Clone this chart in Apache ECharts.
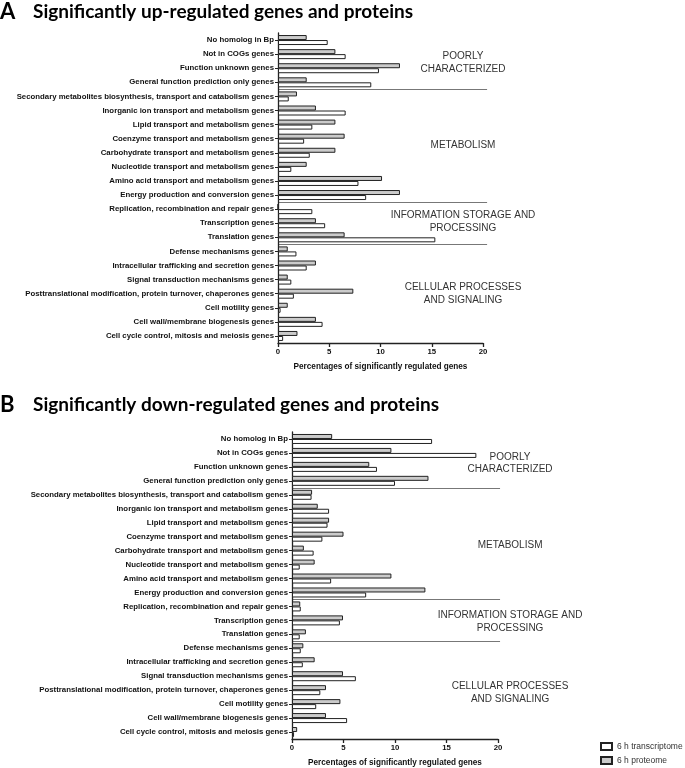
<!DOCTYPE html>
<html><head><meta charset="utf-8">
<script src="https://cdn.jsdelivr.net/npm/echarts@6/dist/echarts.min.js"></script>
<style>html,body{margin:0;padding:0;background:#fff}#c{width:685px;height:768px}</style>
</head><body><div id="c"></div>
<script>
const categories = [
  "No homolog in Bp",
  "Not in COGs genes",
  "Function unknown genes",
  "General function prediction only genes",
  "Secondary metabolites biosynthesis, transport and catabolism genes",
  "Inorganic ion transport and metabolism genes",
  "Lipid transport and metabolism genes",
  "Coenzyme transport and metabolism genes",
  "Carbohydrate transport and metabolism genes",
  "Nucleotide transport and metabolism genes",
  "Amino acid transport and metabolism genes",
  "Energy production and conversion genes",
  "Replication, recombination and repair genes",
  "Transcription genes",
  "Translation genes",
  "Defense mechanisms genes",
  "Intracellular trafficking and secretion genes",
  "Signal transduction mechanisms genes",
  "Posttranslational modification, protein turnover, chaperones genes",
  "Cell motility genes",
  "Cell wall/membrane biogenesis genes",
  "Cell cycle control, mitosis and meiosis genes"
];
const upProteome = [2.8,5.6,11.9,2.8,1.85,3.7,5.6,6.5,5.6,2.8,10.15,11.9,0,3.7,6.5,0.95,3.7,0.95,7.35,0.95,3.7,1.9];
const upTranscriptome = [4.85,6.6,9.85,9.1,1.05,6.6,3.35,2.55,3.1,1.3,7.85,8.6,3.35,4.6,15.35,1.8,2.8,1.3,1.55,0.25,4.35,0.5];
const downProteome = [3.9,9.65,7.5,13.25,1.95,2.5,3.6,5.0,1.15,2.2,9.65,12.95,0.8,4.95,1.35,1.1,2.2,4.95,3.3,4.7,3.3,0.5];
const downTranscriptome = [13.6,17.9,8.25,10.0,1.9,3.6,3.45,2.95,2.1,0.75,3.8,7.2,0.85,4.65,0.75,0.85,1.05,6.2,2.75,2.35,5.35,0.2];
const xTicks = [0,5,10,15,20];
const titleA = "Significantly up-regulated genes and proteins";
const titleB = "Significantly down-regulated genes and proteins";
const axisName = "Percentages of significantly regulated genes";
const seriesNames = ["6 h proteome","6 h transcriptome"];
const groups = [
  {text:"POORLY\nCHARACTERIZED", cA:1.6, cB:1.75},
  {text:"METABOLISM", cA:7.5, cB:7.6},
  {text:"INFORMATION STORAGE AND\nPROCESSING", cA:12.9, cB:13.1},
  {text:"CELLULAR PROCESSES\nAND SIGNALING", cA:18.0, cB:18.2}
];
const separatorsAfter = [3, 11, 14];

const chart = echarts.init(document.getElementById('c'));
const lblFont = 'Liberation Sans';
function xAx(gi){
  return {gridIndex:gi, type:'value', min:xTicks[0], max:xTicks[xTicks.length-1], interval:5,
    axisLine:{show:true,lineStyle:{color:'#222',width:1.3}},
    axisTick:{show:true,length:4,lineStyle:{color:'#222',width:1.3}},
    axisLabel:{fontFamily:lblFont,fontWeight:'bold',fontSize:7.8,color:'#111',margin:5},
    splitLine:{show:false},
    name:axisName, nameLocation:'middle', nameGap:20,
    nameTextStyle:{fontFamily:lblFont,fontWeight:'bold',fontSize:8.2,color:'#111'}};
}
function yAx(gi){
  return {gridIndex:gi, type:'category', data:categories, inverse:true,
    axisLine:{show:true,lineStyle:{color:'#222',width:1.3}},
    axisTick:{show:true,alignWithLabel:true,length:3,lineStyle:{color:'#222',width:1}},
    axisLabel:{fontFamily:lblFont,fontWeight:'bold',fontSize:7.8,color:'#111',margin:4}};
}
function bar(gi, name, data, color){
  return {type:'bar', name:name, xAxisIndex:gi, yAxisIndex:gi, data:data, barWidth:5, barGap:'0%',
    itemStyle:{color:color,borderColor:'#222',borderWidth:1}, animation:false};
}
const tStyle = {fontFamily:'Lato',fontWeight:'bold',fontSize:19,color:'#000'};
const letterStyle = {fontFamily:'Lato',fontWeight:'bold',fontSize:22,color:'#000'};
const legendText = {fontFamily:lblFont,fontSize:8.5,color:'#333'};
chart.setOption({
  animation:false,
  title:[
    {text:'A',left:0,top:1,padding:0,textStyle:letterStyle},
    {text:titleA,left:33,top:2,padding:0,textStyle:tStyle},
    {text:'B',left:0,top:394,padding:0,textStyle:letterStyle},
    {text:titleB,left:33,top:395,padding:0,textStyle:tStyle}
  ],
  grid:[{left:278,width:205,top:33,height:310},{left:292,width:206,top:432,height:309}],
  xAxis:[xAx(0),xAx(1)],
  yAxis:[yAx(0),yAx(1)],
  legend:[
    {data:[seriesNames[1]],left:600,top:742,padding:0,itemWidth:11,itemHeight:7,icon:'rect',textStyle:legendText},
    {data:[seriesNames[0]],left:600,top:756,padding:0,itemWidth:11,itemHeight:7,icon:'rect',textStyle:legendText}
  ],
  series:[
    bar(0,seriesNames[0],upProteome,'#cbcbcb'),
    bar(0,seriesNames[1],upTranscriptome,'#ffffff'),
    bar(1,seriesNames[0],downProteome,'#cbcbcb'),
    bar(1,seriesNames[1],downTranscriptome,'#ffffff')
  ]
});
function px(gi,v,c){return chart.convertToPixel({xAxisIndex:gi,yAxisIndex:gi},[v,c]);}
function pxf(gi,v,c){
  const i0 = Math.floor(c), f = c - i0;
  const a = px(gi,v,i0), b = px(gi,v,i0+1);
  return [a[0], a[1] + (b[1]-a[1])*f];
}
const els = [];
[[0,20.4,18.05,'cA'],[1,20.2,21.17,'cB']].forEach(([gi,xEnd,xLbl,key])=>{
  separatorsAfter.forEach(c=>{
    const a = px(gi,0,c), b = px(gi,xEnd,c+1);
    const y = Math.round((a[1]+b[1])/2)+0.5;
    els.push({type:'line',shape:{x1:a[0],y1:y,x2:b[0],y2:y},style:{stroke:'#777',lineWidth:1},silent:true});
  });
  groups.forEach(g=>{
    const p = pxf(gi,xLbl,g[key]);
    els.push({type:'text',x:p[0],y:p[1],style:{text:g.text,font:'10px "Liberation Sans"',fill:'#333',
      align:'center',verticalAlign:'middle',lineHeight:12.5},silent:true});
  });
});
chart.setOption({graphic:els});
</script>
</body></html>
